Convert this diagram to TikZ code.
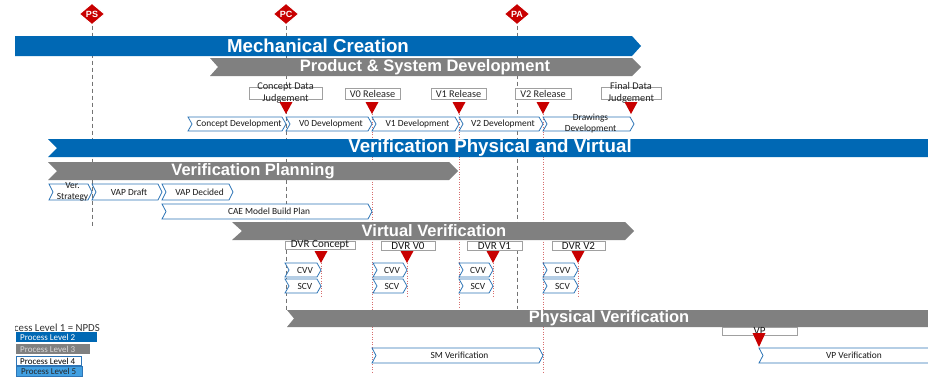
\documentclass[tikz,border=0pt]{standalone}
\usepackage{fontspec}
\setmainfont{Carlito}
\newfontfamily\barfont{Liberation Sans}
\usetikzlibrary{shapes.geometric}

\definecolor{lvlblue}{RGB}{0,104,180}
\definecolor{lvlgray}{RGB}{128,128,128}
\definecolor{lvlsky}{RGB}{66,160,226}
\definecolor{chevline}{RGB}{46,117,182}
\definecolor{msred}{RGB}{200,0,0}
\definecolor{tagline}{RGB}{160,160,160}
\definecolor{gatered}{RGB}{215,110,110}

\pgfdeclarelayer{guides}
\pgfsetlayers{guides,main}

\tikzset{
  bartext/.style={font=\barfont\bfseries\fontsize{16.5}{18}\selectfont, text=white, inner sep=0},
  bigbartext/.style={font=\barfont\bfseries\fontsize{18.7}{20}\selectfont, text=white, inner sep=0},
  chevtext/.style={font=\fontsize{9.4}{11}\selectfont, text=black!90, inner sep=0, align=center},
  chevbox/.style={fill=white, draw=chevline, line width=0.8pt},
  tagbox/.style={draw=tagline, fill=white, line width=0.6pt},
  tagtext/.style={font=\fontsize{10.3}{12}\selectfont, text=black!85, inner sep=0, align=center},
  dvrtext/.style={font=\fontsize{11}{12}\selectfont, text=black!90, inner sep=0},
  msdiamond/.style={diamond, fill=msred, draw=white, line width=1.2pt,
    minimum width=26pt, minimum height=22pt, inner sep=0,
    font=\barfont\bfseries\fontsize{9}{10}\selectfont, text=white},
  msline/.style={draw=black!55, line width=1pt, dash pattern=on 4pt off 3pt},
  gateline/.style={draw=gatered, line width=0.6pt, dash pattern=on 1pt off 1.5pt},
  legtext/.style={font=\fontsize{9}{10}\selectfont, inner sep=0, anchor=west},
}

% process bar: x1, x2 (tip), ytop, ybot, notch depth, colour
\newcommand{\procbar}[6]{%
  \fill[#6] (#1,#3) -- ({#2-9},#3) -- (#2,{(#3+#4)/2}) -- ({#2-9},#4)
    -- (#1,#4) -- ({#1+#5},{(#3+#4)/2}) -- cycle;
}
% activity chevron: name, x1, x2, ytop, ybot, text
\newcommand{\chevron}[6]{%
  \path[chevbox] (#2,#4) -- ({#3-4},#4) -- (#3,{(#4+#5)/2}) -- ({#3-4},#5)
    -- (#2,#5) -- ({#2+4},{(#4+#5)/2}) -- cycle;
  \node[chevtext] (#1) at ({(#2+#3)/2+2},{(#4+#5)/2}) {#6};
}
% gate marker: name, x, ytop, ybot (apex)
\newcommand{\gate}[4]{%
  \fill[msred] ({#2-6.5},#3) -- ({#2+6.5},#3) -- (#2,#4) -- cycle;
  \coordinate (#1) at (#2,#4);
}
% gate marker with a dotted guide down to a named end point
\newcommand{\gateguide}[5]{%
  \gate{#1}{#2}{#3}{#4}
  \coordinate (#1end) at (#2,#5);
  \begin{pgfonlayer}{guides}
    \draw[gateline] (#1) -- (#1end);
  \end{pgfonlayer}
}
% label tag: name, x1, x2, ytop, ybot, text, style
\newcommand{\tagbox}[7]{%
  \draw[tagbox] (#2,#4) rectangle (#3,#5);
  \node[#7] (#1) at ({(#2+#3)/2},{(#4+#5)/2}) {#6};
}

\begin{document}
\begin{tikzpicture}[x=1pt, y=-1pt]
\useasboundingbox (0,0) rectangle (928,378);
\begin{pgfonlayer}{guides}
  \fill[white] (0,0) rectangle (928,378);
\end{pgfonlayer}

% milestone diamonds and their dashed guide lines
\node[msdiamond] (ps) at (92,14) {PS};
\node[msdiamond] (pc) at (286,14) {PC};
\node[msdiamond] (pa) at (517,14) {PA};
\coordinate (psend) at (92,226);
\coordinate (pcend) at (286,310);
\coordinate (paend) at (517,309);
\begin{pgfonlayer}{guides}
  \draw[msline] (ps.south) -- (psend);
  \draw[msline] (pc.south) -- (pcend);
  \draw[msline] (pa.south) -- (paend);
\end{pgfonlayer}

% level 2 / level 3 bars
\procbar{15}{641}{36}{56}{0}{lvlblue}
\node[bigbartext] (mc) at (318,46) {Mechanical Creation};
\procbar{210}{641}{58}{76}{8}{lvlgray}
\node[bartext] (psd) at (425,67) {Product \& System Development};

\procbar{48}{950}{139}{157}{9}{lvlblue}
\node[bigbartext] (vpv) at (490,148) {Verification Physical and Virtual};
\procbar{48}{458}{162}{180}{9}{lvlgray}
\node[bartext] (vpl) at (253,171) {Verification Planning};
\procbar{232}{634}{222}{240}{10}{lvlgray}
\node[bartext] (vv) at (434,231) {Virtual Verification};
\procbar{287}{950}{310}{327}{7}{lvlgray}
\node[bartext] (pv) at (609,318.5) {Physical Verification};

% development gates
\tagbox{cdj}{249}{322}{87}{99}{Concept Data\\Judgement}{tagtext}
\tagbox{v0r}{345}{400}{88}{99}{V0 Release}{tagtext}
\tagbox{v1r}{431}{486}{88}{99}{V1 Release}{tagtext}
\tagbox{v2r}{515}{571}{88}{99}{V2 Release}{tagtext}
\tagbox{fdj}{601}{661}{87}{99}{Final Data\\Judgement}{tagtext}
\gate{gc}{286}{102}{114}
\gateguide{g0}{372}{102}{114}{373}
\gateguide{g1}{459}{102}{114}{309}
\gateguide{g2}{543}{102}{114}{373}
\gate{gf}{631}{102}{114}

% development activities
\chevron{cd}{188}{286}{117}{131}{Concept Development}
\chevron{v0d}{286}{372}{117}{131}{V0 Development}
\chevron{v1d}{372}{459}{117}{131}{V1 Development}
\chevron{v2d}{459}{543}{117}{131}{V2 Development}
\chevron{dd}{543}{634}{117}{131}{Drawings\\Development}

% verification planning activities
\chevron{vs}{49}{92}{184}{200}{Ver.\\Strategy}
\chevron{vapd}{92}{162}{184}{200}{VAP Draft}
\chevron{vapx}{162}{233}{184}{200}{VAP Decided}
\chevron{cae}{162}{372}{204}{219}{CAE Model Build Plan}

% virtual verification reviews
\tagbox{dvrc}{285}{355}{241}{249}{DVR Concept}{dvrtext}
\tagbox{dvr0}{381}{435}{241}{250}{DVR V0}{dvrtext}
\tagbox{dvr1}{467}{522}{241}{250}{DVR V1}{dvrtext}
\tagbox{dvr2}{552}{605}{241}{250}{DVR V2}{dvrtext}
\gateguide{d0}{321}{251}{263}{298}
\gateguide{d1}{407}{251}{263}{298}
\gateguide{d2}{493}{251}{263}{298}
\gateguide{d3}{578}{251}{263}{298}

\chevron{cvv0}{285}{321}{263}{277}{CVV}
\chevron{scv0}{285}{321}{279}{293}{SCV}
\chevron{cvv1}{373}{407}{263}{277}{CVV}
\chevron{scv1}{373}{407}{279}{293}{SCV}
\chevron{cvv2}{459}{493}{263}{277}{CVV}
\chevron{scv2}{459}{493}{279}{293}{SCV}
\chevron{cvv3}{543}{578}{263}{277}{CVV}
\chevron{scv3}{543}{578}{279}{293}{SCV}

% physical verification
\tagbox{vp}{722}{797}{327}{335}{VP}{dvrtext}
\gate{gvp}{759}{333}{347}
\chevron{smv}{372}{543}{348}{363}{SM Verification}
\chevron{vpv2}{759}{945}{348}{363}{VP Verification}

% legend
\begin{scope}
  \clip (15,318) rectangle (120,334);
  \node[legtext, anchor=east, text=black!80, font=\fontsize{10.8}{12}\selectfont]
    (lv1) at (100,328) {Process Level 1 = NPDS};
\end{scope}
\fill[lvlblue] (16,332) rectangle (97,342);
\node[legtext, text=white] (lv2) at (20,337) {Process Level 2};
\fill[lvlgray] (16,343.5) rectangle (90,354);
\node[legtext, text=black!15] (lv3) at (20,349) {Process Level 3};
\draw[chevline, fill=white, line width=0.6pt] (16,356.5) rectangle (81,365);
\node[legtext, text=black] (lv4) at (20,361) {Process Level 4};
\draw[chevline, fill=lvlsky, line width=0.6pt] (16,366) rectangle (82,376);
\node[legtext, text=black!85] (lv5) at (21,371) {Process Level 5};
\end{tikzpicture}
\end{document}
